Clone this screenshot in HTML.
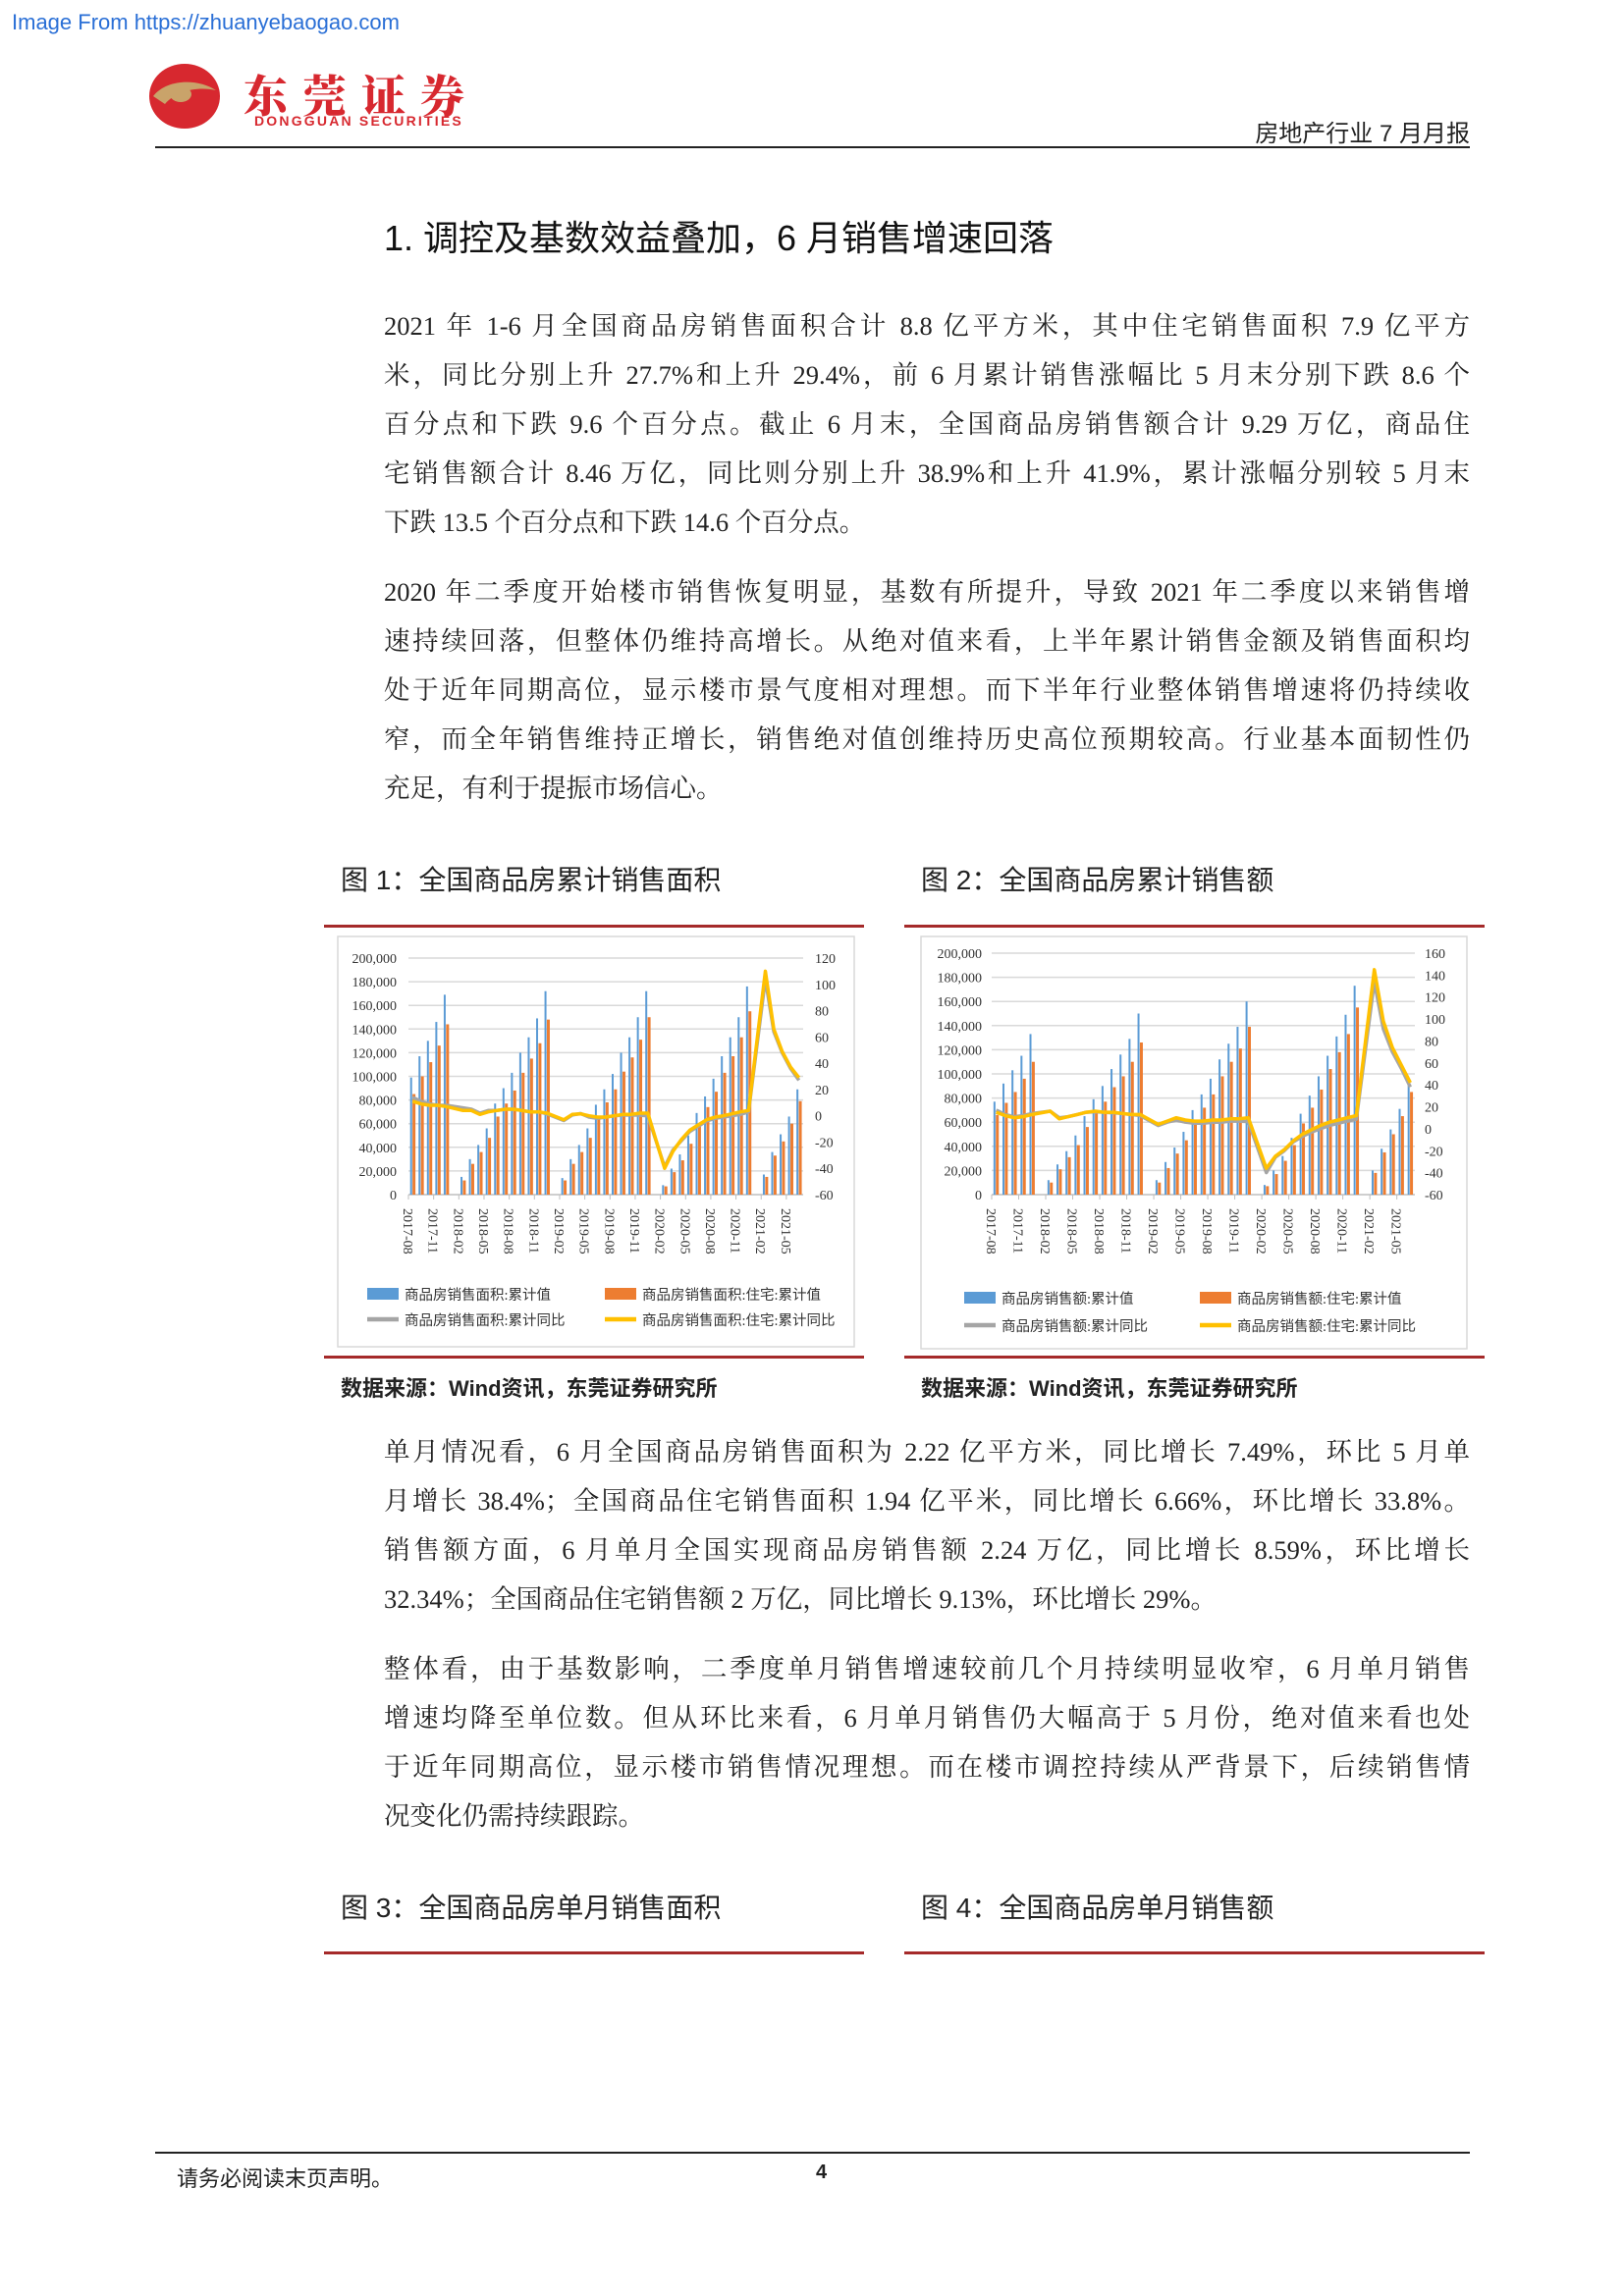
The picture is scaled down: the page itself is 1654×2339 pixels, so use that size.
<!DOCTYPE html>
<html><head><meta charset="utf-8">
<style>
body{margin:0;background:#fff;}
#page{position:relative;width:1654px;height:2339px;overflow:hidden;background:#fff;font-family:"Liberation Serif","Noto Serif CJK SC",serif;color:#222;}
.abs{position:absolute;}
.para div{height:50px;line-height:50px;white-space:nowrap;text-align:justify;text-align-last:justify;}
.para div.last{text-align-last:left;}
.para{position:absolute;left:391px;width:1106px;font-size:26.5px;}
.cap{position:absolute;font-family:"Liberation Sans","Noto Sans CJK SC",sans-serif;font-size:28px;color:#222;}
.red{position:absolute;height:3px;background:#a52a2a;}
.src{position:absolute;font-family:"Liberation Sans","Noto Sans CJK SC",sans-serif;font-size:22px;font-weight:bold;color:#222;}
svg text{font-family:"Liberation Serif","Noto Sans CJK SC",serif;}
</style></head><body>
<div id="page">
<div class="abs" style="left:12px;top:10px;font-family:'Liberation Sans',sans-serif;font-size:22px;color:#2a6fd6;">Image From https://zhuanyebaogao.com</div>

<svg class="abs" style="left:150px;top:62px" width="76" height="72" viewBox="0 0 76 72">
<ellipse cx="38" cy="36" rx="36" ry="33" fill="#d7282f"/>
<path d="M6 36 C20 18 52 18 70 30 C52 26 30 30 18 44 Z" fill="#c9a36a"/>
<ellipse cx="34" cy="34" rx="11" ry="8" fill="#c9a36a"/>
</svg>
<div class="abs" style="left:248px;top:62px;font-family:'Noto Serif CJK SC',serif;font-weight:900;font-size:45px;color:#d7282f;letter-spacing:15px;">东莞证券</div>
<div class="abs" style="left:259px;top:115px;font-family:'Liberation Sans',sans-serif;font-weight:bold;font-size:14px;color:#d7282f;letter-spacing:2.2px;">DONGGUAN SECURITIES</div>
<div class="abs" style="left:1000px;width:497px;text-align:right;top:116px;font-family:'Liberation Sans','Noto Sans CJK SC',sans-serif;font-size:24px;color:#222;">房地产行业 7 月月报</div>
<div class="abs" style="left:158px;top:149px;width:1339px;height:2px;background:#222;"></div>

<div class="abs" style="left:391px;top:214px;font-family:'Liberation Sans','Noto Sans CJK SC',sans-serif;font-size:36px;color:#111;">1. 调控及基数效益叠加，6 月销售增速回落</div>

<div class="para" style="top:307px;">
<div>2021 年 1-6 月全国商品房销售面积合计 8.8 亿平方米，其中住宅销售面积 7.9 亿平方</div>
<div>米，同比分别上升 27.7%和上升 29.4%，前 6 月累计销售涨幅比 5 月末分别下跌 8.6 个</div>
<div>百分点和下跌 9.6 个百分点。截止 6 月末，全国商品房销售额合计 9.29 万亿，商品住</div>
<div>宅销售额合计 8.46 万亿，同比则分别上升 38.9%和上升 41.9%，累计涨幅分别较 5 月末</div>
<div class="last">下跌 13.5 个百分点和下跌 14.6 个百分点。</div>
</div>
<div class="para" style="top:578px;">
<div>2020 年二季度开始楼市销售恢复明显，基数有所提升，导致 2021 年二季度以来销售增</div>
<div>速持续回落，但整体仍维持高增长。从绝对值来看，上半年累计销售金额及销售面积均</div>
<div>处于近年同期高位，显示楼市景气度相对理想。而下半年行业整体销售增速将仍持续收</div>
<div>窄，而全年销售维持正增长，销售绝对值创维持历史高位预期较高。行业基本面韧性仍</div>
<div class="last">充足，有利于提振市场信心。</div>
</div>

<div class="cap" style="left:347px;top:875px;">图 1：全国商品房累计销售面积</div>
<div class="cap" style="left:938px;top:875px;">图 2：全国商品房累计销售额</div>
<div class="red" style="left:330px;top:942px;width:550px;"></div>
<div class="red" style="left:921px;top:942px;width:591px;"></div>
<div class="red" style="left:330px;top:1381px;width:550px;"></div>
<div class="red" style="left:921px;top:1381px;width:591px;"></div>

<svg class="abs" id="chart1" style="left:0;top:0" width="1654" height="1400"></svg>

<div class="src" style="left:347px;top:1397px;">数据来源：Wind资讯，东莞证券研究所</div>
<div class="src" style="left:938px;top:1397px;">数据来源：Wind资讯，东莞证券研究所</div>

<div class="para" style="top:1454px;">
<div>单月情况看，6 月全国商品房销售面积为 2.22 亿平方米，同比增长 7.49%，环比 5 月单</div>
<div>月增长 38.4%；全国商品住宅销售面积 1.94 亿平米，同比增长 6.66%，环比增长 33.8%。</div>
<div>销售额方面，6 月单月全国实现商品房销售额 2.24 万亿，同比增长 8.59%，环比增长</div>
<div class="last">32.34%；全国商品住宅销售额 2 万亿，同比增长 9.13%，环比增长 29%。</div>
</div>
<div class="para" style="top:1675px;">
<div>整体看，由于基数影响，二季度单月销售增速较前几个月持续明显收窄，6 月单月销售</div>
<div>增速均降至单位数。但从环比来看，6 月单月销售仍大幅高于 5 月份，绝对值来看也处</div>
<div>于近年同期高位，显示楼市销售情况理想。而在楼市调控持续从严背景下，后续销售情</div>
<div class="last">况变化仍需持续跟踪。</div>
</div>

<div class="cap" style="left:347px;top:1922px;">图 3：全国商品房单月销售面积</div>
<div class="cap" style="left:938px;top:1922px;">图 4：全国商品房单月销售额</div>
<div class="red" style="left:330px;top:1988px;width:550px;"></div>
<div class="red" style="left:921px;top:1988px;width:591px;"></div>

<div class="abs" style="left:158px;top:2192px;width:1339px;height:2px;background:#222;"></div>
<div class="abs" style="left:180px;top:2202px;font-family:'Liberation Sans','Noto Sans CJK SC',sans-serif;font-size:22px;color:#222;">请务必阅读末页声明。</div>
<div class="abs" style="left:831px;top:2202px;font-family:'Liberation Sans',sans-serif;font-weight:bold;font-size:20px;color:#222;">4</div>
</div>

<script>
// month categories 2017-08 .. 2021-06
const categories = [];
(function(){let y=2017,m=8;while(!(y===2021&&m===7)){categories.push(y+'-'+String(m).padStart(2,'0'));m++;if(m>12){m=1;y++;}}})();

// Chart 1 : sales area (10k m2), YoY %
const c1Total = [99,117,130,146,169, null,15,30,42,56,77,90,103,120,133,149,172, null,14,30,42,56,76,89,102,120,133,150,172, null,8,22,34,50,69,83,98,117,133,150,176, null,17,36,51,66,89];
const c1Res   = [85,100,112,126,144, null,12,26,36,48,66,77,88,103,115,128,148, null,12,26,36,48,66,78,89,104,116,131,150, null,7,19,29,43,60,74,87,103,117,133,155, null,15,33,45,60,79];
const c1TotYoy = [14,11,9,8,8, null,6,5,2,4,4,5,5,4,3,3,1.5, null,-3.6,0.6,1.7,-1,-2,-1,0,0.5,0.5,0.5,0, null,-39,-26,-19,-12,-8,-4,-2,-1,0,1,3, null,104,64,48,36,27];
const c1ResYoy = [11,9,8,8,7, null,4,4,1,3,4,5,5,4,3,3,2, null,-3,1,1.5,0,-1,-1,0,1,1,2,2, null,-40,-27,-18,-11,-7,-3,-1,0,1.5,3,4, null,110,66,49,37,29];
const c1LeftTicks = [0,20000,40000,60000,80000,100000,120000,140000,160000,180000,200000];
const c1RightTicks = [-60,-40,-20,0,20,40,60,80,100,120];
const c1Legend = ['商品房销售面积:累计值','商品房销售面积:住宅:累计值','商品房销售面积:累计同比','商品房销售面积:住宅:累计同比'];

// Chart 2 : sales amount (100m yuan), YoY %
const c2Total = [77,92,103,115,133, null,12,25,36,49,65,79,90,104,116,129,150, null,12,27,39,52,70,83,96,112,125,139,160, null,8,20,32,47,67,82,98,115,131,149,173, null,20,38,54,71,92];
const c2Res   = [66,76,85,96,110, null,10,21,31,41,56,68,77,89,98,110,126, null,10,22,34,45,61,72,83,98,110,121,139, null,7,17,28,41,59,72,87,104,118,133,155, null,18,35,50,65,85];
const c2TotYoy = [17,13,11,12,14, null,16,10,11,13,15,15.5,15,14.5,14,13,12, null,3,6,8,6,5,5,6,6,7,7,6.5, null,-40,-26,-20,-12,-7,-3,0,3,5,7,8.7, null,134,91,70,55,38];
const c2ResYoy = [15,12,10,11,13, null,16,9,11,13,15,16,15,15,14,13,13, null,4,7,10,8,7,7,8,8,9,9,10, null,-36,-25,-19,-11,-5,-1,3,6,8,10,12, null,145,98,74,58,42];
const c2LeftTicks = [0,20000,40000,60000,80000,100000,120000,140000,160000,180000,200000];
const c2RightTicks = [-60,-40,-20,0,20,40,60,80,100,120,140,160];
const c2Legend = ['商品房销售额:累计值','商品房销售额:住宅:累计值','商品房销售额:累计同比','商品房销售额:住宅:累计同比'];

const NS='http://www.w3.org/2000/svg';
const svg=document.getElementById('chart1');
function mk(tag,attrs,parent){const e=document.createElementNS(NS,tag);for(const k in attrs)e.setAttribute(k,attrs[k]);(parent||svg).appendChild(e);return e;}

function drawChart(cfg){
  const g=mk('g',{});
  
  
  const box=mk('rect',{x:cfg.box[0],y:cfg.box[1],width:cfg.box[2],height:cfg.box[3],fill:'none',stroke:'#d9d9d9','stroke-width':1.5},g);
  
  
  const L=cfg.left,R=cfg.right,T=cfg.top,B=cfg.bottom;
  const lmin=cfg.lTicks[0],lmax=cfg.lTicks[cfg.lTicks.length-1];
  const rmin=cfg.rTicks[0],rmax=cfg.rTicks[cfg.rTicks.length-1];
  const yL=v=>B-(v-lmin)/(lmax-lmin)*(B-T);
  const yR=v=>B-(v-rmin)/(rmax-rmin)*(B-T);
  const n=categories.length,cw=(R-L)/n;
  const xC=i=>L+i*cw;
  cfg.lTicks.forEach(t=>{
    const ln=mk('line',{x1:L,x2:R,y1:yL(t),y2:yL(t),stroke:t===0?'#bfbfbf':'#d9d9d9','stroke-width':1.5},g);
    
    
    const tx=mk('text',{x:cfg.lLabelX,y:yL(t)+5,'text-anchor':'end','font-size':14,fill:'#333'},g);
    tx.textContent=t.toLocaleString('en-US');
    
    
  });
  cfg.rTicks.forEach(t=>{
    const tx=mk('text',{x:cfg.rLabelX,y:yR(t)+5,'text-anchor':'start','font-size':14,fill:'#333'},g);
    tx.textContent=t;
    
    
  });
  for(let i=0;i<n;i++){
    if(cfg.total[i]!=null){
      const b=mk('rect',{x:xC(i)+cw*0.2,y:yL(cfg.total[i]*1000),width:2,height:B-yL(cfg.total[i]*1000),fill:'#5b9bd5'},g);
      
      
    }
    if(cfg.res[i]!=null){
      const b=mk('rect',{x:xC(i)+cw*0.2+2.4,y:yL(cfg.res[i]*1000),width:3,height:B-yL(cfg.res[i]*1000),fill:'#ed7d31'},g);
      
      
    }
    if(i%3===0){
      const x=xC(i);
      const tk=mk('line',{x1:x,x2:x,y1:B,y2:B+5,stroke:'#bfbfbf','stroke-width':1},g);
      
      
      const tx=mk('text',{x:0,y:0,'font-size':14,fill:'#333',transform:'translate('+(x-5)+','+(B+14)+') rotate(90)'},g);
      tx.textContent=categories[i];
      
      
    }
  }
  function line(vals,color,w,nm){
    const pts=[];vals.forEach((v,i)=>{if(v!=null)pts.push((xC(i)+cw*0.5).toFixed(1)+','+yR(v).toFixed(1));});
    const p=mk('polyline',{points:pts.join(' '),fill:'none',stroke:color,'stroke-width':w,'stroke-linejoin':'round'},g);
    
    
  }
  line(cfg.totYoy,'#a5a5a5',3.5,'line-total-yoy');
  line(cfg.resYoy,'#ffc000',3.5,'line-residential-yoy');
  const lg=cfg.legend;
  const items=[[lg.x1,lg.y1,'rect','#5b9bd5'],[lg.x2,lg.y1,'rect','#ed7d31'],[lg.x1,lg.y2,'line','#a5a5a5'],[lg.x2,lg.y2,'line','#ffc000']];
  items.forEach((it,k)=>{
    let sw;
    if(it[2]==='rect') sw=mk('rect',{x:it[0],y:it[1]-6,width:32,height:12,fill:it[3]},g);
    else sw=mk('line',{x1:it[0],x2:it[0]+32,y1:it[1],y2:it[1],stroke:it[3],'stroke-width':4.5},g);
    
    
    const tx=mk('text',{x:it[0]+38,y:it[1]+6,'font-size':14.5,fill:'#333','font-family':'"Liberation Sans","Noto Sans CJK SC",sans-serif'},g);
    tx.textContent=cfg.legendText[k];
    
    
  });
}

drawChart({name:'chart-1-cumulative-area',box:[344,954,526,418],left:416,right:818,top:976,bottom:1217,
  lTicks:c1LeftTicks,rTicks:c1RightTicks,lLabelX:404,rLabelX:830,
  total:c1Total,res:c1Res,totYoy:c1TotYoy,resYoy:c1ResYoy,legendText:c1Legend,
  legend:{x1:374,x2:616,y1:1318,y2:1344}});
drawChart({name:'chart-2-cumulative-amount',box:[938,954,556,420],left:1010,right:1441,top:971,bottom:1217,
  lTicks:c2LeftTicks,rTicks:c2RightTicks,lLabelX:1000,rLabelX:1451,
  total:c2Total,res:c2Res,totYoy:c2TotYoy,resYoy:c2ResYoy,legendText:c2Legend,
  legend:{x1:982,x2:1222,y1:1322,y2:1350}});
</script>
</body></html>
